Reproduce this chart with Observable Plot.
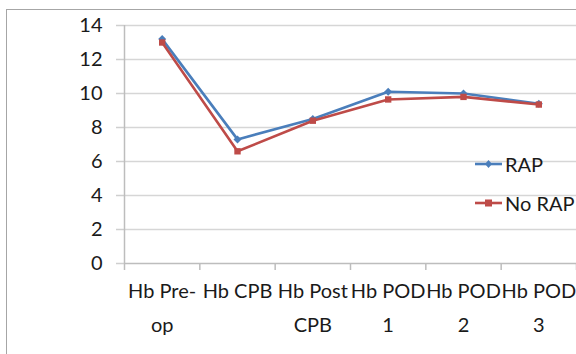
<!DOCTYPE html>
<html><head><meta charset="utf-8">
<script src="https://cdn.jsdelivr.net/npm/d3@7"></script>
<script src="https://cdn.jsdelivr.net/npm/@observablehq/plot@0.6"></script>
<style>
body{margin:0;background:#fff;}
#wrap{position:relative;width:576px;height:354px;overflow:hidden;font-family:Lato,sans-serif;}
#border{position:absolute;left:6px;top:9px;width:600px;height:400px;border-left:1.5px solid #a6a6a6;border-top:1.5px solid #a6a6a6;pointer-events:none;}
#chart{position:absolute;left:0;top:0;}
#legend{position:absolute;left:474px;top:150px;font-size:20px;color:#1a1a1a;}
.item{position:absolute;left:0;height:28px;display:flex;align-items:center;white-space:nowrap;}
.item svg{margin-right:2px;}
</style></head><body><div id="wrap"><div id="chart"></div><div id="border"></div><div id="legend"></div></div>
<script>
const categories = ["Hb Pre-op", "Hb CPB", "Hb Post CPB", "Hb POD 1", "Hb POD 2", "Hb POD 3"];
const tickLabels = ["Hb Pre-\nop", "Hb CPB", "Hb Post\nCPB", "Hb POD\n1", "Hb POD\n2", "Hb POD\n3"];
const rapValues = [13.2, 7.3, 8.5, 10.1, 10.0, 9.4];
const noRapValues = [13.0, 6.6, 8.4, 9.65, 9.8, 9.35];
const yTicks = [0, 2, 4, 6, 8, 10, 12, 14];
const seriesNames = ["RAP", "No RAP"];
const seriesColors = ["#4a7ebb", "#be4b48"];
const seriesSymbols = ["diamond2", "square"];

const seriesValues = [rapValues, noRapValues];
const data = seriesNames.flatMap((name, s) => seriesValues[s].map((v, i) => ({series: name, i, category: categories[i], value: v})));
const n = categories.length;
const xPos = d => categories.indexOf(d.category) + 0.5;

const seriesMarks = seriesNames.flatMap(name => {
  const sub = data.filter(d => d.series === name);
  return [
    Plot.line(sub, {x: xPos, y: "value", stroke: "series", strokeWidth: 2.6}),
    Plot.dot(sub, {x: xPos, y: "value", fill: "series", symbol: "series", r: 3.6, stroke: "none"})
  ];
});

const chart = Plot.plot({
  width: 576,
  height: 354,
  marginLeft: 124,
  marginRight: 0,
  marginTop: 25,
  marginBottom: 91,
  style: {fontFamily: "Lato, sans-serif", background: "transparent"},
  x: {domain: [0, n]},
  y: {domain: [0, 14]},
  color: {domain: seriesNames, range: seriesColors},
  symbol: {domain: seriesNames, range: seriesSymbols},
  marks: [
    Plot.ruleY(yTicks.filter(t => t > 0), {stroke: "#d6d6d6", strokeWidth: 1.5}),
    Plot.axisY({ticks: yTicks, tickSize: 8, tickPadding: 14, stroke: "#cfcfcf", strokeWidth: 1.5, fill: "#1a1a1a", fontSize: 20, tickFormat: d => String(d), label: null}),
    Plot.axisX({ticks: d3.range(0, n + 1), tickSize: 7, stroke: "#bdbdbd", strokeWidth: 1.5, tickFormat: () => "", label: null}),
    Plot.axisX({ticks: d3.range(0, n).map(i => i + 0.5), tickSize: 0, tickPadding: 10, lineHeight: 1.72, fill: "#1a1a1a", fontSize: 20, tickFormat: v => tickLabels[Math.floor(v)], label: null}),
    Plot.ruleY([0], {stroke: "#bdbdbd", strokeWidth: 1.5}),
    Plot.ruleX([0], {stroke: "#bdbdbd", strokeWidth: 1.5}),
    ...seriesMarks
  ]
});
document.getElementById("chart").appendChild(chart);

const legend = document.getElementById("legend");
seriesNames.forEach((name, s) => {
  const item = document.createElement("div");
  item.className = "item";
  item.style.top = (s * 39) + "px";
  const sym = s === 0
    ? `<path d="M14.5,10 L18,14 L14.5,18 L11,14 Z" fill="${seriesColors[s]}"/>`
    : `<rect x="11" y="10.5" width="7" height="7" fill="${seriesColors[s]}"/>`;
  item.innerHTML = `<svg width="29" height="28"><line x1="1" x2="28" y1="14" y2="14" stroke="${seriesColors[s]}" stroke-width="2.6"/>${sym}</svg><span>${name}</span>`;
  legend.appendChild(item);
});
</script>
</body></html>
